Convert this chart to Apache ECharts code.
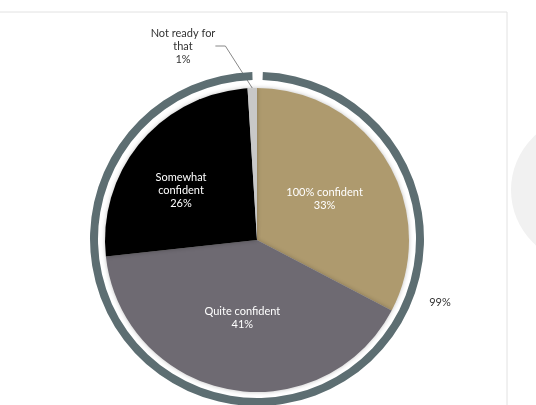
<!DOCTYPE html>
<html><head><meta charset="utf-8">
<script src="https://cdn.jsdelivr.net/npm/echarts@6/dist/echarts.min.js"></script>
<style>html,body{margin:0;padding:0;background:#fff}#c{width:536px;height:405px}</style>
</head><body><div id="c"></div>
<script>
const categories = ['100% confident', 'Quite confident', 'Somewhat confident', 'Not ready for that'];
const values = [33, 41, 26, 1];
const colors = ['#ae9a6e', '#6e6a72', '#000000', '#c8c8c8'];
const ringValues = [99, 1];
const ringLabels = ['99%', ''];

const chart = echarts.init(document.getElementById('c'));
chart.setOption({
  animation: false,
  graphic: [
    {type: 'line', shape: {x1: 0, y1: 12, x2: 507, y2: 12}, style: {stroke: '#e2e2e2', lineWidth: 1}},
    {type: 'line', shape: {x1: 507, y1: 12, x2: 507, y2: 405}, style: {stroke: '#e2e2e2', lineWidth: 1}},
    {type: 'circle', shape: {cx: 585, cy: 190, r: 74}, style: {fill: '#f1f1f1'}}
  ],
  series: [
    {
      type: 'pie', center: [257, 239], radius: [159, 167], startAngle: 88, clockwise: true,
      silent: true,
      label: {show: true, position: 'outside', color: '#333', fontSize: 11, fontFamily: 'Lato', formatter: p => ringLabels[p.dataIndex]},
      labelLine: {show: false},
      labelLayout: p => p.dataIndex === 0 ? {x: 440, y: 302, align: 'center', verticalAlign: 'middle'} : {},
      data: ringValues.map((v, i) => ({value: v, itemStyle: {color: i === 0 ? '#5d6e72' : 'rgba(0,0,0,0)'}}))
    },
    {
      type: 'pie', center: [257, 240], radius: [0, 152], startAngle: 90, clockwise: true,
      itemStyle: {borderWidth: 0, shadowBlur: 4, shadowColor: 'rgba(0,0,0,0.25)'},
      label: {show: true, position: 'inside', color: '#fff', fontSize: 11, fontFamily: 'Lato', lineHeight: 13,
        formatter: p => p.name.replace('Somewhat ', 'Somewhat\n') + '\n' + p.value + '%'},
      labelLayout: p => p.dataIndex === 2 ? {x: 181, y: 190, align: 'center', verticalAlign: 'middle'} :
        p.dataIndex === 3 ? {x: 183, y: 46, align: 'center', verticalAlign: 'middle'} : {},
      data: categories.map((c, i) => {
        const d = {name: c, value: values[i], itemStyle: {color: colors[i]}};
        if (i === 3) {
          d.label = {position: 'outside', color: '#333', formatter: 'Not ready for\nthat\n{c}%', align: 'center'};
          d.labelLine = {show: true, length: 10, length2: 10, lineStyle: {color: '#888', width: 1}};
        }
        return d;
      })
    }
  ]
});
</script></body></html>
